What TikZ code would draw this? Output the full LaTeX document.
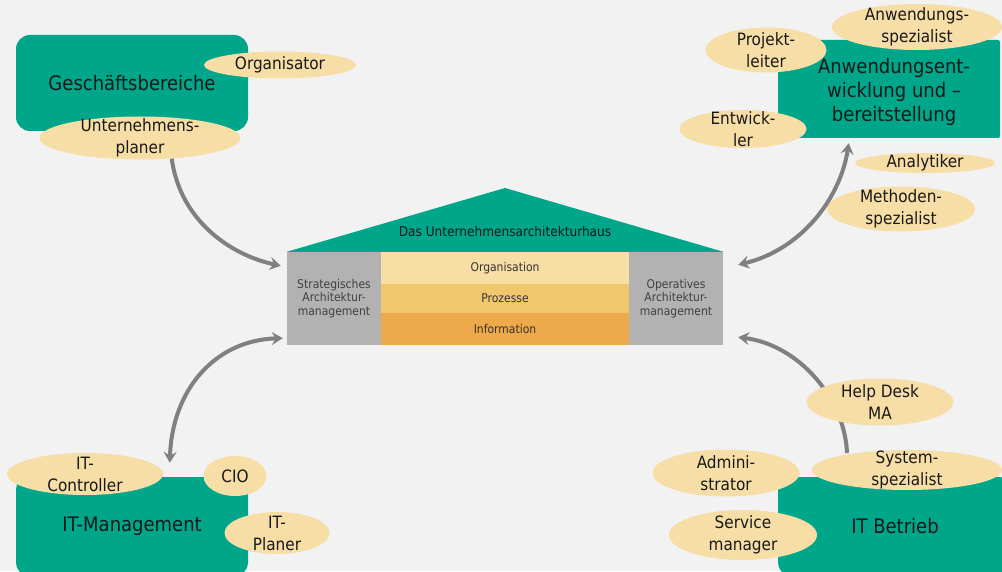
\documentclass[tikz,border=0pt]{standalone}
\usepackage{fontspec}
\setmainfont{DejaVu Sans Condensed}
\usetikzlibrary{shapes.geometric,arrows.meta,calc}
\definecolor{hteal}{HTML}{00A689}
\definecolor{beige}{HTML}{F6DEA6}
\definecolor{colgray}{HTML}{B2B2B2}
\definecolor{roworg}{HTML}{F7DEA5}
\definecolor{rowproz}{HTML}{F0C76C}
\definecolor{rowinfo}{HTML}{EEA94A}
\definecolor{agray}{HTML}{808080}
\definecolor{bg}{HTML}{F2F2F2}
\begin{document}
\begin{tikzpicture}[x=1pt,y=1pt,
  box/.style={fill=hteal, draw=none, inner sep=0, align=center,
    font=\fontsize{20}{24}\selectfont, text=black!90},
  btext/.style={inner sep=0, align=center, font=\fontsize{20}{24}\selectfont, text=black!90},
  role/.style={ellipse, fill=beige, draw=none, inner sep=0},
  rtext/.style={align=center, font=\fontsize{17}{22}\selectfont, text=black!90, inner sep=0},
  col/.style={fill=colgray, draw=none, inner sep=0, minimum width=94, minimum height=93,
    align=center, font=\fontsize{12}{13.5}\selectfont, text=black!75},
  row/.style={draw=none, inner sep=0, minimum width=248,
    font=\fontsize{12}{14}\selectfont, text=black!80},
  arr/.style={draw=agray, line width=4pt},
  tip/.tip={Stealth[length=11pt,width=13pt,inset=4pt]}
]
\useasboundingbox (0,0) rectangle (1002,571);
\fill[bg] (0,0) rectangle (1002,571);
\clip (0,0) rectangle (1002,571);

% boxes
\node[box, rounded corners=14pt, minimum width=232, minimum height=96] (gb) at (132,488) {Geschäftsbereiche};
\node[box, rounded corners=2pt, minimum width=222, minimum height=98] (anw) at (889,482) {};
\node[btext] (anwT) at (894,479) {Anwendungsent-\\wicklung und –\\bereitstellung};
\node[box, rounded corners=12pt, minimum width=232, minimum height=98] (itm) at (132,45) {IT-Management};
\node[box, rounded corners=12pt, minimum width=234, minimum height=98] (itb) at (895,45) {IT Betrieb};

% house
\node[col] (strat) at (334,272.5) {Strategisches\\Architektur-\\management};
\node[col] (oper) at (676,272.5) {Operatives\\Architektur-\\management};
\node[row, fill=roworg, minimum height=32] (org) at (505,303) {Organisation};
\node[row, fill=rowproz, minimum height=29] (proz) at (505,272.5) {Prozesse};
\node[row, fill=rowinfo, minimum height=32] (info) at (505,242) {Information};
\fill[hteal] (strat.north west) -- (505,383) -- (oper.north east) -- cycle;
\node[font=\fontsize{13.5}{16}\selectfont, text=black!90, inner sep=0] (roofT) at (505,340) {Das Unternehmensarchitekturhaus};

% arrow behind ellipses
\coordinate (sysTop) at (847,118);
\draw[arr, -tip] (sysTop) .. controls (845,171) and (800,226) .. ($(oper.south east)+(15,8)$);

% ellipses
\node[role, minimum width=152, minimum height=27] (orgr) at (280,506) {};
\node[rtext] (orgrT) at (orgr) {Organisator};
\node[role, minimum width=201, minimum height=43] (planer) at (140,433) {};
\node[rtext] (planerT) at (planer) {Unternehmens-\\planer};

\node[role, minimum width=170, minimum height=46] (anwsp) at (917,544) {};
\node[rtext] (anwspT) at (anwsp) {Anwendungs-\\spezialist};
\node[role, minimum width=121, minimum height=45] (pl) at (766,521) {};
\node[rtext] (plT) at (pl) {Projekt-\\leiter};
\node[role, minimum width=127, minimum height=38] (entw) at (743,442) {};
\node[rtext] (entwT) at (entw) {Entwick-\\ler};
\node[role, minimum width=140, minimum height=20] (ana) at (925,408) {};
\node[rtext] (anaT) at (ana) {Analytiker};
\node[role, minimum width=148, minimum height=45] (meth) at (901,362) {};
\node[rtext] (methT) at (meth) {Methoden-\\spezialist};

\node[role, minimum width=156, minimum height=42] (ctrl) at (85,97) {};
\node[rtext] (ctrlT) at (ctrl) {IT-\\Controller};
\node[role, minimum width=63, minimum height=40] (cio) at (235,95) {};
\node[rtext] (cioT) at (cio) {CIO};
\node[role, minimum width=105, minimum height=42] (itp) at (277,38) {};
\node[rtext] (itpT) at (itp) {IT-\\Planer};

\node[role, minimum width=147, minimum height=47] (hd) at (880,169) {};
\node[rtext] (hdT) at (hd) {Help Desk\\MA};
\node[role, minimum width=147, minimum height=47] (adm) at (726,98) {};
\node[rtext] (admT) at (adm) {Admini-\\strator};
\node[role, minimum width=190, minimum height=40] (sys) at (907,101) {};
\node[rtext] (sysT) at (sys) {System-\\spezialist};
\node[role, minimum width=148, minimum height=50] (srv) at (743,36) {};
\node[rtext] (srvT) at (srv) {Service\\manager};

% arrows in front
\draw[arr, -tip] (planer.-33) .. controls (180,351) and (230,316) .. ($(strat.north west)+(-6,-14)$);
\draw[arr, tip-tip] ($(oper.north east)+(15,-13)$) .. controls (800,321) and (840,371) .. ($(anw.south west)+(71,-5)$);
\draw[arr, tip-tip] ($(strat.south west)+(-4,7)$) .. controls (215,231) and (172,181) .. ($(itm.north west)+(154,14)$);
\end{tikzpicture}
\end{document}
